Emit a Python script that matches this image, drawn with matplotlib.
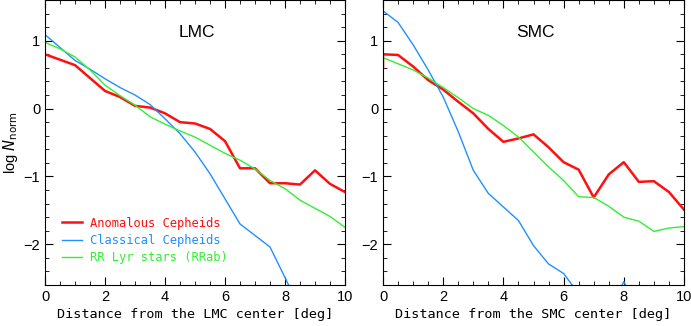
import matplotlib
matplotlib.use("Agg")
import matplotlib.pyplot as plt
from matplotlib.ticker import MultipleLocator

plt.rcParams["font.family"] = ["Liberation Sans", "DejaVu Sans"]

# radial profiles, log N_norm vs distance [deg]
x = [0, 0.5, 1, 1.5, 2, 2.5, 3, 3.5, 4, 4.5, 5, 5.5, 6, 6.5, 7, 7.5, 8, 8.5, 9, 9.5, 10]

lmc_acep_x = [0, 1, 2, 2.5, 3, 3.5, 4, 4.5, 5, 5.5, 6, 6.5, 7, 7.5, 8, 8.5, 9, 9.5, 10]
lmc_acep = [0.80, 0.64, 0.26, 0.17, 0.04, 0.015, -0.07, -0.20, -0.22, -0.30, -0.48,
            -0.88, -0.88, -1.10, -1.10, -1.12, -0.91, -1.11, -1.23]
lmc_ccep = [1.09, 0.90, 0.71, 0.58, 0.44, 0.31, 0.20, 0.06, -0.15, -0.37, -0.64,
            -0.96, -1.33, -1.70, -1.87, -2.04, -2.49, -2.95, -3.2, -3.4, -3.6]
lmc_rrab = [0.975, 0.88, 0.76, 0.57, 0.345, 0.19, 0.05, -0.12, -0.23, -0.33, -0.42,
            -0.54, -0.66, -0.76, -0.89, -1.06, -1.18, -1.35, -1.47, -1.59, -1.75]

smc_acep_x = [0, 0] + x
smc_acep = [0.60, 0.80, 0.80, 0.79, 0.62, 0.42, 0.28, 0.10, -0.07, -0.30, -0.49, -0.44,
            -0.38, -0.57, -0.79, -0.90, -1.31, -0.97, -0.79, -1.08, -1.07, -1.23, -1.49]
smc_ccep = [1.44, 1.27, 0.94, 0.57, 0.17, -0.34, -0.91, -1.25, -1.45, -1.65, -2.02,
            -2.29, -2.43, -2.73, -3.0, -3.0, -2.55, -3.0, -3.2, -3.4, -3.6]
smc_rrab = [0.75, 0.66, 0.57, 0.45, 0.31, 0.16, 0.0, -0.10, -0.25, -0.42, -0.64,
            -0.86, -1.06, -1.30, -1.31, -1.44, -1.60, -1.66, -1.81, -1.76, -1.74]

red = "#ff1010"
blue = "#2090ff"
green = "#33ee33"
mono = "DejaVu Sans Mono"

fig = plt.figure(figsize=(6.91, 3.26), dpi=100)
ax1 = fig.add_axes([45/691, 41/326, 300/691, 285/326])
ax2 = fig.add_axes([383/691, 41/326, 301/691, 285/326])

for ax, name in [(ax1, "LMC"), (ax2, "SMC")]:
    ax.set_xlim(0, 10)
    ax.set_ylim(-2.6, 1.6)
    ax.xaxis.set_major_locator(MultipleLocator(2))
    ax.xaxis.set_minor_locator(MultipleLocator(0.5))
    ax.yaxis.set_major_locator(MultipleLocator(1))
    ax.yaxis.set_minor_locator(MultipleLocator(0.2))
    ax.tick_params(which="both", direction="in", top=True, right=True, labelsize=10.5)
    ax.tick_params(which="major", length=6)
    ax.tick_params(which="minor", length=3)
    ax.set_yticks([-2, -1, 0, 1])
    ax.set_yticklabels(["\u22122", "\u22121", "0", "1"])
    ax.set_xlabel("Distance from the %s center [deg]" % name, family=mono, fontsize=9.7, labelpad=3)
    ax.text(5.05, 1.12, name, fontsize=12.5, ha="center", va="center")

ax1.plot(lmc_acep_x, lmc_acep, color=red, lw=1.8, label="Anomalous Cepheids")
ax1.plot(x, lmc_ccep, color=blue, lw=1.0, label="Classical Cepheids")
ax1.plot(x, lmc_rrab, color=green, lw=1.0, label="RR Lyr stars (RRab)")

ax2.plot(smc_acep_x, smc_acep, color=red, lw=1.8)
ax2.plot(x, smc_ccep, color=blue, lw=1.0)
ax2.plot(x, smc_rrab, color=green, lw=1.0)

ax1.set_ylabel(r"log $N_{\rm norm}$", fontsize=10.5)
ax1.yaxis.set_label_coords(-0.083, 0.5)
ax1.legend(loc="lower left", bbox_to_anchor=(0.02, 0.035), frameon=False,
           prop={"family": mono, "size": 8.7}, labelcolor="linecolor",
           handlelength=1.7, handletextpad=0.6, labelspacing=0.35)

fig.savefig("out.png", dpi=100)
